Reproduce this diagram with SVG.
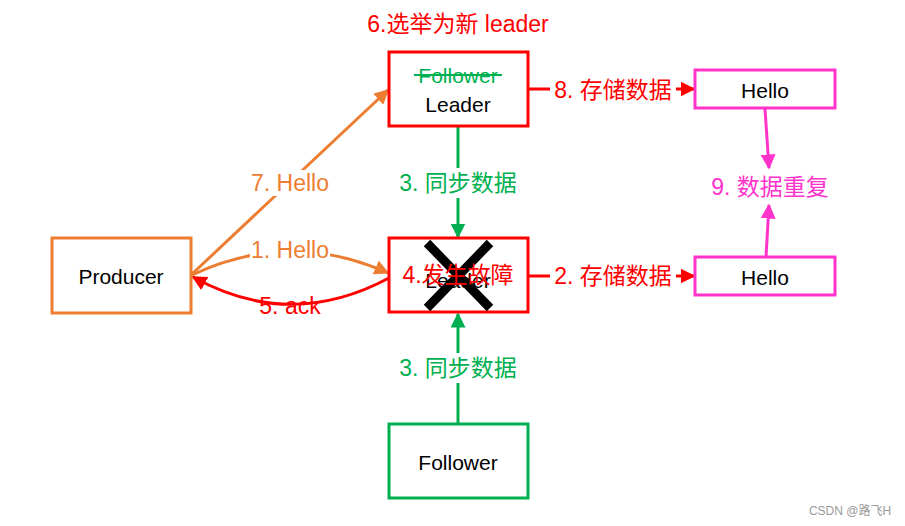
<svg xmlns="http://www.w3.org/2000/svg" width="905" height="526" viewBox="0 0 905 526">
<defs>
<style>
text{font-family:"Liberation Sans","Noto Sans CJK SC",sans-serif;text-anchor:middle;dominant-baseline:central}
.box{fill:#fff;stroke-width:3}
.lbl{font-size:23px}
.red{fill:#FF0000}.org{fill:#ED7D31}.grn{fill:#00B050}.mag{fill:#FF33CC}
.node{font-size:21px;fill:#000}
</style>
<marker id="aR" viewBox="0 0 10 10" refX="9" refY="5" markerWidth="5" markerHeight="5" orient="auto" markerUnits="strokeWidth"><path d="M0,0L10,5L0,10z" fill="#FF0000"/></marker>
<marker id="aO" viewBox="0 0 10 10" refX="9" refY="5" markerWidth="5" markerHeight="5" orient="auto" markerUnits="strokeWidth"><path d="M0,0L10,5L0,10z" fill="#ED7D31"/></marker>
<marker id="aG" viewBox="0 0 10 10" refX="9" refY="5" markerWidth="5" markerHeight="5" orient="auto" markerUnits="strokeWidth"><path d="M0,0L10,5L0,10z" fill="#00B050"/></marker>
<marker id="aM" viewBox="0 0 10 10" refX="9" refY="5" markerWidth="5" markerHeight="5" orient="auto" markerUnits="strokeWidth"><path d="M0,0L10,5L0,10z" fill="#FF33CC"/></marker>
</defs>
<rect width="905" height="526" fill="#fff"/>
<g id="connectors" fill="none" stroke-width="3">
<path d="M192,275 Q290,229 388,273" stroke="#ED7D31" marker-end="url(#aO)"/>
<path d="M389,278 Q290,331 193,277" stroke="#FF0000" marker-end="url(#aR)"/>
<path d="M192,274 L388,90" stroke="#ED7D31" marker-end="url(#aO)"/>
<path d="M458,127 L458,237" stroke="#00B050" marker-end="url(#aG)"/>
<path d="M458,424 L458,314" stroke="#00B050" marker-end="url(#aG)"/>
<path d="M529,89 L694,89" stroke="#FF0000" marker-end="url(#aR)"/>
<path d="M529,276 L694,276" stroke="#FF0000" marker-end="url(#aR)"/>
<path d="M765,109 L769,168" stroke="#FF33CC" marker-end="url(#aM)"/>
<path d="M766,257 L769,205" stroke="#FF33CC" marker-end="url(#aM)"/>
<rect x="250" y="238" width="80" height="26" fill="#fff"/>
<rect x="250" y="170" width="80" height="26" fill="#fff"/>
<rect x="396" y="168" width="124" height="30" fill="#fff"/>
<rect x="396" y="353" width="124" height="30" fill="#fff"/>
<rect x="550" y="75" width="126" height="30" fill="#fff"/>
<rect x="550" y="261" width="126" height="30" fill="#fff"/>
</g>
<g id="labels">
<text class="lbl org" x="290" y="250">1. Hello</text>
<text class="lbl org" x="290" y="183">7. Hello</text>
<text class="lbl red" x="290" y="306">5. ack</text>
<text class="lbl grn" x="458" y="183">3. 同步数据</text>
<text class="lbl grn" x="458" y="368">3. 同步数据</text>
<text class="lbl red" x="613" y="90">8. 存储数据</text>
<text class="lbl red" x="613" y="276">2. 存储数据</text>
<text class="lbl mag" x="770" y="187">9. 数据重复</text>
<text class="lbl red" x="458" y="24">6.选举为新 leader</text>
</g>
<g id="producer">
<rect class="box" x="52" y="238" width="139" height="75" stroke="#ED7D31"/>
<text class="node" x="121" y="276">Producer</text>
</g>
<g id="leader">
<rect class="box" x="389" y="52" width="139" height="74" stroke="#FF0000"/>
<text class="node" x="458" y="75" style="fill:#00B050">Follower</text>
<line x1="414" y1="75" x2="502" y2="75" stroke="#00B050" stroke-width="2"/>
<text class="node" x="458" y="104">Leader</text>
</g>
<g id="failed">
<rect class="box" x="389" y="238" width="139" height="74" stroke="#FF0000"/>
<text class="node" x="458" y="280">Leader</text>
<line x1="427" y1="243" x2="490" y2="308" stroke="#000" stroke-width="9"/>
<line x1="490" y1="243" x2="427" y2="308" stroke="#000" stroke-width="9"/>
<text class="lbl red" x="458" y="275">4.发生故障</text>
</g>
<g id="follower">
<rect class="box" x="389" y="424" width="139" height="74" stroke="#00B050"/>
<text class="node" x="458" y="462">Follower</text>
</g>
<g id="hello1">
<rect class="box" x="695" y="70" width="140" height="38" stroke="#FF33CC"/>
<text class="node" x="765" y="90">Hello</text>
</g>
<g id="hello2">
<rect class="box" x="695" y="257" width="140" height="38" stroke="#FF33CC"/>
<text class="node" x="765" y="277">Hello</text>
</g>
<text x="850" y="511" style="font-size:12px;fill:#999">CSDN @路飞H</text>
</svg>
